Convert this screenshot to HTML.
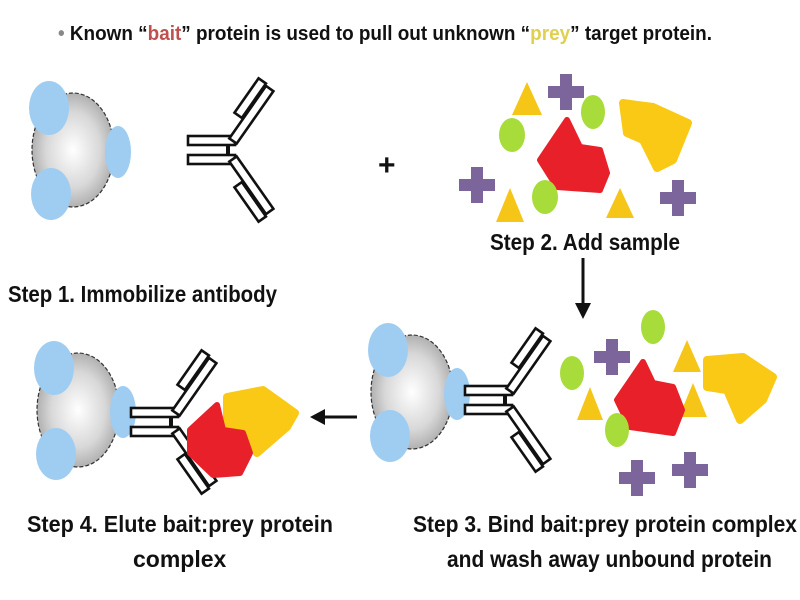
<!DOCTYPE html>
<html><head><meta charset="utf-8"><style>
html,body{margin:0;padding:0;background:#fff;}
svg{display:block;}
text{font-family:"Liberation Sans",sans-serif;font-weight:bold;fill:#111;}
</style></head><body>
<svg width="800" height="600" viewBox="0 0 800 600" xmlns="http://www.w3.org/2000/svg">
<defs>
<radialGradient id="bg" cx="0.5" cy="0.5" r="0.55">
<stop offset="0" stop-color="#ffffff"/><stop offset="0.6" stop-color="#d8d8d8"/><stop offset="1" stop-color="#a5a5a5"/>
</radialGradient>
<g id="bead">
<ellipse cx="0" cy="0" rx="41" ry="57" fill="url(#bg)" stroke="#333" stroke-width="1.2" stroke-dasharray="4,2"/>
<ellipse cx="-24" cy="-42" rx="20" ry="27" fill="#9fcdf2"/>
<ellipse cx="45" cy="2" rx="13" ry="26" fill="#9fcdf2"/>
<ellipse cx="-22" cy="44" rx="20" ry="26" fill="#9fcdf2"/>
</g>
<g id="ab" fill="#fff" stroke="#111" stroke-width="2.6">
<rect x="-45" y="-14" width="47" height="9"/>
<rect x="-45" y="5" width="47" height="9"/>
<line x1="-5" y1="-5" x2="-5" y2="5" stroke-width="4"/>
<g transform="translate(0,-9) rotate(-55)">
<rect x="0" y="-4.5" width="64" height="9"/>
<rect x="24" y="-15" width="42" height="9"/>
</g>
<g transform="translate(0,9) rotate(55)">
<rect x="0" y="-4.5" width="64" height="9"/>
<rect x="24" y="6" width="42" height="9"/>
</g>
</g>
<path id="cross" d="M-6,-18 H6 V-6 H18 V6 H6 V18 H-6 V6 H-18 V-6 H-6 Z" fill="#7b659a"/>
</defs>

<text x="58" y="40" font-size="20" textLength="654" lengthAdjust="spacingAndGlyphs"><tspan fill="#888">•</tspan> Known “<tspan fill="#c0504d">bait</tspan>” protein is used to pull out unknown “<tspan fill="#e0d050">prey</tspan>” target protein.</text>

<!-- Step 1 -->
<use href="#bead" x="73" y="150"/>
<use href="#ab" x="233" y="150"/>
<text x="378" y="175" font-size="30" font-weight="normal">+</text>
<text x="8" y="302" font-size="23" textLength="269" lengthAdjust="spacingAndGlyphs">Step 1. Immobilize antibody</text>

<!-- Step 2 -->
<polygon points="527,82 542,115 512,115" fill="#f5c518"/>
<use href="#cross" x="566" y="92"/>
<ellipse cx="593" cy="112" rx="12" ry="17" fill="#a8dc3a"/>
<ellipse cx="512" cy="135" rx="13" ry="17" fill="#a8dc3a"/>
<polygon points="623,103 653,107 688,123 673,160 657,168 643,140 627,133" fill="#f9c915" stroke="#f9c915" stroke-width="8" stroke-linejoin="round"/>
<polygon points="540,160 567,120 580,147 600,150 607,173 600,190 557,187" fill="#e8202a" stroke="#e8202a" stroke-width="6" stroke-linejoin="round"/>
<use href="#cross" x="477" y="185"/>
<use href="#cross" x="678" y="198"/>
<polygon points="510,188 524,222 496,222" fill="#f5c518"/>
<polygon points="620,188 634,218 606,218" fill="#f5c518"/>
<ellipse cx="545" cy="197" rx="13" ry="17" fill="#a8dc3a"/>
<text x="490" y="250" font-size="23" textLength="190" lengthAdjust="spacingAndGlyphs">Step 2. Add sample</text>

<!-- down arrow -->
<line x1="583" y1="258" x2="583" y2="306" stroke="#111" stroke-width="3"/>
<polygon points="575,303 591,303 583,319" fill="#111"/>

<!-- Step 3 -->
<use href="#bead" x="412" y="392"/>
<use href="#ab" x="510" y="400"/>
<ellipse cx="653" cy="327" rx="12" ry="17" fill="#a8dc3a"/>
<use href="#cross" x="612" y="357"/>
<ellipse cx="572" cy="373" rx="12" ry="17" fill="#a8dc3a"/>
<polygon points="590,387 603,420 577,420" fill="#f5c518"/>
<polygon points="687,340 701,372 673,372" fill="#f5c518"/>
<polygon points="693,383 707,417 679,417" fill="#f5c518"/>
<polygon points="707,360 743,357 773,377 763,400 740,420 727,390 707,387" fill="#f9c915" stroke="#f9c915" stroke-width="8" stroke-linejoin="round"/>
<polygon points="617,400 643,362 653,383 673,387 682,410 673,433 630,427" fill="#e8202a" stroke="#e8202a" stroke-width="6" stroke-linejoin="round"/>
<ellipse cx="617" cy="430" rx="12" ry="17" fill="#a8dc3a"/>
<use href="#cross" x="637" y="478"/>
<use href="#cross" x="690" y="470"/>
<text x="413" y="532" font-size="23" textLength="384" lengthAdjust="spacingAndGlyphs">Step 3. Bind bait:prey protein complex</text>
<text x="447" y="567" font-size="23" textLength="325" lengthAdjust="spacingAndGlyphs">and wash away unbound protein</text>

<!-- left arrow -->
<line x1="322" y1="417" x2="357" y2="417" stroke="#111" stroke-width="3"/>
<polygon points="310,417 325,409 325,425" fill="#111"/>

<!-- Step 4 -->
<use href="#bead" x="78" y="410"/>
<use href="#ab" x="176" y="422"/>
<polygon points="227,397 263,390 295,413 287,427 257,453 250,433 227,427" fill="#f9c915" stroke="#f9c915" stroke-width="8" stroke-linejoin="round"/>
<polygon points="190,430 217,405 223,430 243,433 250,453 240,473 213,475 190,453" fill="#e8202a" stroke="#e8202a" stroke-width="6" stroke-linejoin="round"/>
<text x="27" y="532" font-size="23" textLength="306" lengthAdjust="spacingAndGlyphs">Step 4. Elute bait:prey protein</text>
<text x="133" y="567" font-size="23">complex</text>
</svg>
</body></html>
